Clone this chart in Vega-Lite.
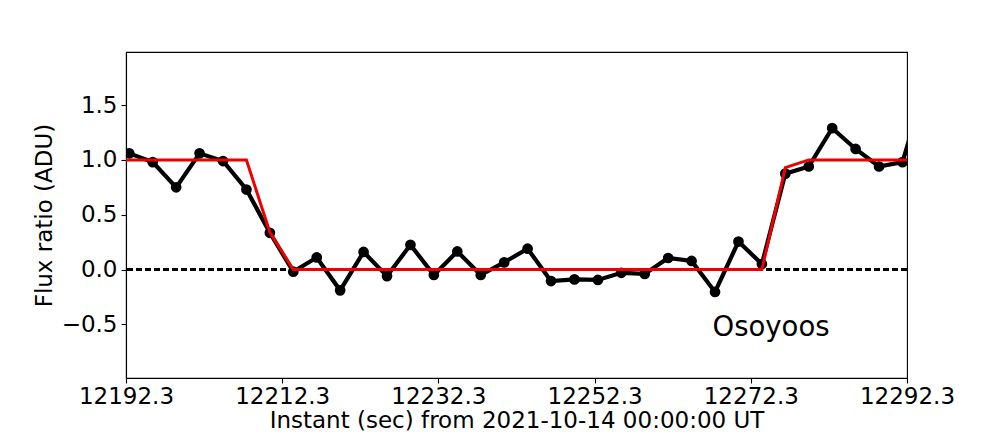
{
  "$schema": "https://vega.github.io/schema/vega-lite/v6.json",
  "width": 781,
  "height": 326,
  "autosize": {"type": "none"},
  "padding": {"left": 126, "top": 52, "right": 101, "bottom": 54},
  "background": "white",
  "view": {"stroke": "black", "strokeWidth": 1.1},
  "config": {
    "font": "DejaVu Sans",
    "axis": {
      "grid": false,
      "domainColor": "black",
      "domainWidth": 1.1,
      "tickColor": "black",
      "tickWidth": 1.1,
      "tickSize": 5,
      "labelColor": "black",
      "labelFont": "DejaVu Sans",
      "labelFontSize": 23,
      "titleFont": "DejaVu Sans",
      "titleFontSize": 23,
      "titleFontWeight": "normal",
      "titleColor": "black"
    }
  },
  "datasets": {
    "obs": [
      {"t": 12189.72, "flux": null, "model": 1.0},
      {"t": 12192.72, "flux": 1.06, "model": 1.0},
      {"t": 12195.72, "flux": 0.98, "model": 1.0},
      {"t": 12198.72, "flux": 0.75, "model": 1.0},
      {"t": 12201.72, "flux": 1.06, "model": 1.0},
      {"t": 12204.72, "flux": 0.99, "model": 1.0},
      {"t": 12207.72, "flux": 0.73, "model": 1.0},
      {"t": 12210.72, "flux": 0.335, "model": 0.34},
      {"t": 12213.72, "flux": -0.02, "model": 0.0},
      {"t": 12216.72, "flux": 0.11, "model": 0.0},
      {"t": 12219.72, "flux": -0.19, "model": 0.0},
      {"t": 12222.72, "flux": 0.16, "model": 0.0},
      {"t": 12225.72, "flux": -0.06, "model": 0.0},
      {"t": 12228.72, "flux": 0.225, "model": 0.0},
      {"t": 12231.72, "flux": -0.05, "model": 0.0},
      {"t": 12234.72, "flux": 0.165, "model": 0.0},
      {"t": 12237.72, "flux": -0.05, "model": 0.0},
      {"t": 12240.72, "flux": 0.065, "model": 0.0},
      {"t": 12243.72, "flux": 0.19, "model": 0.0},
      {"t": 12246.72, "flux": -0.105, "model": 0.0},
      {"t": 12249.72, "flux": -0.09, "model": 0.0},
      {"t": 12252.72, "flux": -0.095, "model": 0.0},
      {"t": 12255.72, "flux": -0.03, "model": 0.0},
      {"t": 12258.72, "flux": -0.04, "model": 0.0},
      {"t": 12261.72, "flux": 0.105, "model": 0.0},
      {"t": 12264.72, "flux": 0.078, "model": 0.0},
      {"t": 12267.72, "flux": -0.205, "model": 0.0},
      {"t": 12270.72, "flux": 0.255, "model": 0.0},
      {"t": 12273.72, "flux": 0.05, "model": 0.0},
      {"t": 12276.72, "flux": 0.875, "model": 0.93},
      {"t": 12279.72, "flux": 0.94, "model": 1.0},
      {"t": 12282.72, "flux": 1.29, "model": 1.0},
      {"t": 12285.72, "flux": 1.1, "model": 1.0},
      {"t": 12288.72, "flux": 0.94, "model": 1.0},
      {"t": 12291.72, "flux": 0.98, "model": 1.0},
      {"t": 12294.72, "flux": 1.7, "model": 1.0}
    ],
    "label": [
      {"t": 12267.4, "v": -0.607, "text": "Osoyoos"}
    ]
  },
  "layer": [
    {
      "data": {"name": "obs"},
      "mark": {"type": "rule", "color": "black", "strokeWidth": 1.4, "strokeDash": [6, 3]},
      "encoding": {"y": {"datum": 0, "type": "quantitative", "scale": {"domain": [-0.99, 1.985], "nice": false, "zero": false}}}
    },
    {
      "data": {"name": "obs"},
      "mark": {"type": "line", "color": "black", "strokeWidth": 4.2, "clip": true, "point": {"filled": true, "color": "black", "size": 115, "opacity": 1}},
      "encoding": {
        "x": {
          "field": "t", "type": "quantitative",
          "scale": {"domain": [12192.3, 12292.3], "nice": false, "zero": false},
          "axis": {"values": [12192.3, 12212.3, 12232.3, 12252.3, 12272.3, 12292.3], "format": ".1f", "title": "Instant (sec) from 2021-10-14 00:00:00 UT", "labelPadding": 2, "titlePadding": 1, "labelFlush": false}
        },
        "y": {
          "field": "flux", "type": "quantitative",
          "scale": {"domain": [-0.99, 1.985], "nice": false, "zero": false},
          "axis": {"values": [-0.5, 0, 0.5, 1, 1.5], "format": ".1f", "title": "Flux ratio (ADU)", "labelPadding": 4, "titlePadding": 5}
        }
      }
    },
    {
      "data": {"name": "obs"},
      "mark": {"type": "line", "color": "#ee0000", "strokeWidth": 3, "clip": true},
      "encoding": {
        "x": {"field": "t", "type": "quantitative"},
        "y": {"field": "model", "type": "quantitative"}
      }
    },
    {
      "data": {"name": "label"},
      "mark": {"type": "text", "align": "left", "baseline": "alphabetic", "fontSize": 27.5, "font": "DejaVu Sans", "color": "black"},
      "encoding": {
        "x": {"field": "t", "type": "quantitative"},
        "y": {"field": "v", "type": "quantitative"},
        "text": {"field": "text"}
      }
    }
  ]
}
